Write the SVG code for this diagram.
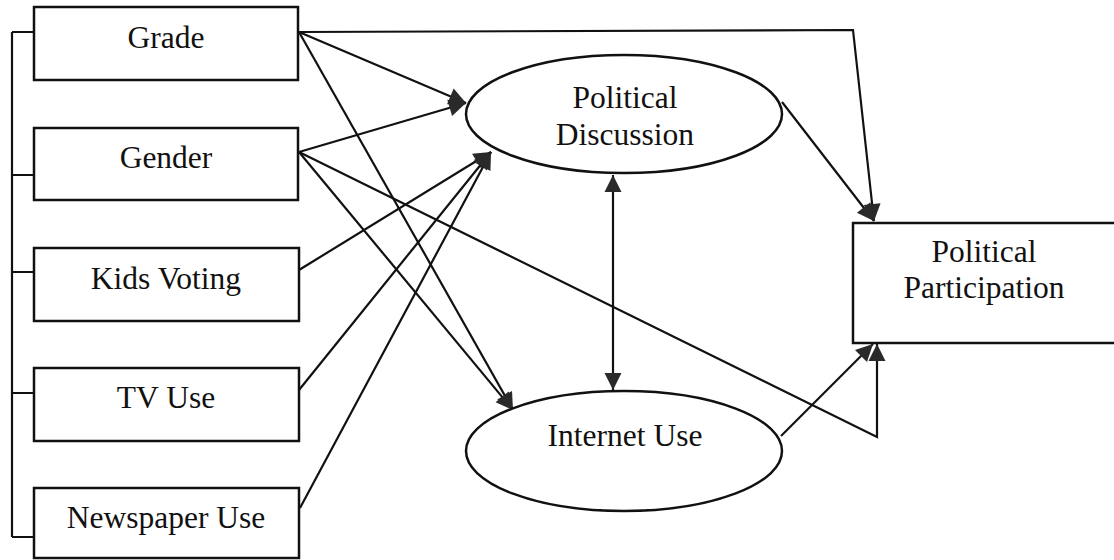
<svg xmlns="http://www.w3.org/2000/svg" width="1114" height="560" viewBox="0 0 1114 560">
<style>
.box{fill:#fff;stroke:#111;stroke-width:2.5}
.ell{fill:#fff;stroke:#111;stroke-width:2.5}
.t{font-family:"Liberation Serif","Times New Roman",serif;font-size:31.5px;fill:#111;text-anchor:middle}
.c{fill:none;stroke:#111;stroke-width:2.2}
.a{marker-end:url(#ah)}
</style>
<defs>
<marker id="ah" markerUnits="userSpaceOnUse" markerWidth="22" markerHeight="22" viewBox="0 0 22 22" refX="19" refY="11" orient="auto">
<path d="M2,2.5 L19,11 L2,19.5 Z" fill="#2a2a2a"/>
</marker>
<marker id="as" markerUnits="userSpaceOnUse" markerWidth="22" markerHeight="22" viewBox="0 0 22 22" refX="3" refY="11" orient="auto">
<path d="M20,2.5 L3,11 L20,19.5 Z" fill="#2a2a2a"/>
</marker>
</defs>
<g id="connectors">
<path class="c" d="M12,32 V537 M12,32 H34 M12,175 H34 M12,272 H34 M12,393 H34 M12,537 H34"/>
<path class="c a" d="M299,32 L853,30 L874,221"/>
<path class="c a" d="M299,32 L466,103"/>
<path class="c a" d="M299,32 L513,410"/>
<path class="c a" d="M299,152 L466,103"/>
<path class="c a" d="M299,152 L513,410"/>
<path class="c a" d="M299,152 L877,437 L877,344"/>
<path class="c a" d="M299,270 L491,152"/>
<path class="c a" d="M299,390 L491,152"/>
<path class="c a" d="M300,508 L491,152"/>
<path class="c a" d="M782,102 L874,221"/>
<path class="c a" d="M781,436 L873,344"/>
<path class="c" d="M613,175 L613,390" marker-start="url(#as)" marker-end="url(#ah)"/>
</g>
<g id="grade"><rect class="box" x="34" y="7" width="264" height="73"/><text class="t" x="166" y="48">Grade</text></g>
<g id="gender"><rect class="box" x="34" y="128" width="264" height="72"/><text class="t" x="166" y="168">Gender</text></g>
<g id="kids-voting"><rect class="box" x="34" y="248" width="265" height="73"/><text class="t" x="166" y="289">Kids Voting</text></g>
<g id="tv-use"><rect class="box" x="34" y="368" width="265" height="73"/><text class="t" x="166" y="408">TV Use</text></g>
<g id="newspaper-use"><rect class="box" x="34" y="488" width="265" height="70"/><text class="t" x="166" y="528">Newspaper Use</text></g>
<g id="political-discussion"><ellipse class="ell" cx="624" cy="114" rx="158" ry="59"/><text class="t" x="625" y="108">Political</text><text class="t" x="625" y="145">Discussion</text></g>
<g id="internet-use"><ellipse class="ell" cx="624" cy="451" rx="158" ry="60"/><text class="t" x="625" y="446">Internet Use</text></g>
<g id="political-participation"><rect class="box" x="853" y="223" width="270" height="120"/><text class="t" x="984" y="262">Political</text><text class="t" x="984" y="298">Participation</text></g>
</svg>
